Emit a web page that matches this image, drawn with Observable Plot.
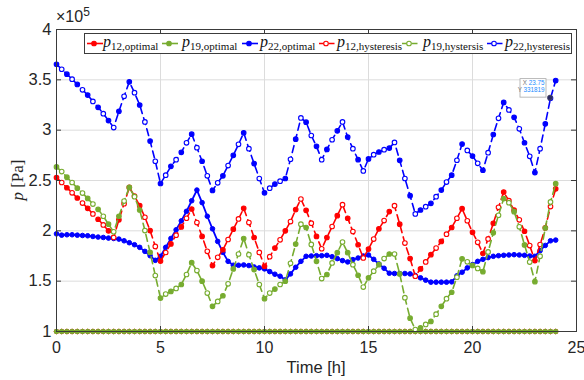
<!DOCTYPE html>
<html><head><meta charset="utf-8">
<script src="https://cdn.jsdelivr.net/npm/d3@7"></script>
<script src="https://cdn.jsdelivr.net/npm/@observablehq/plot@0.6"></script>
<style>
body{margin:0;background:#fff;}
#wrap{position:relative;width:584px;height:380px;font-family:"Liberation Sans",Arial,sans-serif;color:#262626;}
#wrap svg{position:absolute;left:0;top:0;}
.legend{position:absolute;left:84px;top:33px;width:486px;height:19px;border:1px solid #3c3c3c;background:#fff;}
.lg-item{position:absolute;top:0;height:19px;}
.lg-label{position:absolute;top:-1px;font-family:"Liberation Serif","Times New Roman",serif;font-size:16px;white-space:nowrap;color:#111;}
.lg-label sub{font-size:11px;vertical-align:-3px;}
.ylab{position:absolute;left:18px;top:180px;transform:translate(-50%,-50%) rotate(-90deg);font-family:"Liberation Serif",serif;font-size:17px;white-space:nowrap;color:#262626;}
.xlab{position:absolute;left:316px;top:358px;transform:translateX(-50%);font-size:16.5px;white-space:nowrap;}
.mult{position:absolute;left:56px;top:5px;font-size:16px;white-space:nowrap;}
.mult sup{font-size:12px;vertical-align:6px;}
</style></head><body><div id="wrap"></div>
<script>
// Time axis [h]
const time = [0,0.25,0.5,0.75,1,1.25,1.5,1.75,2,2.25,2.5,2.75,3,3.25,3.5,3.75,4,4.25,4.5,4.75,5,5.25,5.5,5.75,6,
6.25,6.5,6.75,7,7.25,7.5,7.75,8,8.25,8.5,8.75,9,9.25,9.5,9.75,10,10.25,10.5,10.75,11,11.25,11.5,11.75,12,12.25,
12.5,12.75,13,13.25,13.5,13.75,14,14.25,14.5,14.75,15,15.25,15.5,15.75,16,16.25,16.5,16.75,17,17.25,17.5,17.75,18,18.25,18.5,
18.75,19,19.25,19.5,19.75,20,20.25,20.5,20.75,21,21.25,21.5,21.75,22,22.25,22.5,22.75,23,23.25,23.5,23.75,24];

// pressures in units of 1e5 Pa
const p12Optimal = [1,1,1,1,1,1,1,1,1,1,1,1,1,1,1,1,1,1,1,1,1,1,1,1,1,
1,1,1,1,1,1,1,1,1,1,1,1,1,1,1,1,1,1,1,1,1,1,1,1,1,
1,1,1,1,1,1,1,1,1,1,1,1,1,1,1,1,1,1,1,1,1,1,1,1,1,
1,1,1,1,1,1,1,1,1,1,1,1,1,1,1,1,1,1,1,1,1,1];
const p19Optimal = [1,1,1,1,1,1,1,1,1,1,1,1,1,1,1,1,1,1,1,1,1,1,1,1,1,
1,1,1,1,1,1,1,1,1,1,1,1,1,1,1,1,1,1,1,1,1,1,1,1,1,
1,1,1,1,1,1,1,1,1,1,1,1,1,1,1,1,1,1,1,1,1,1,1,1,1,
1,1,1,1,1,1,1,1,1,1,1,1,1,1,1,1,1,1,1,1,1,1];
const p22Optimal = [1.970,1.957,1.961,1.961,1.957,1.954,1.951,1.944,1.938,1.934,1.928,1.924,1.918,1.901,1.882,1.862,1.836,1.796,1.753,1.707,1.747,1.836,1.924,2.010,2.099,
2.194,2.299,2.405,2.280,2.145,2.020,1.895,1.786,1.697,1.658,1.658,1.661,1.655,1.641,1.632,1.622,1.595,1.569,1.549,1.513,1.572,1.638,1.697,1.747,1.750,
1.753,1.753,1.757,1.743,1.724,1.704,1.691,1.714,1.730,1.750,1.760,1.717,1.671,1.628,1.579,1.576,1.576,1.576,1.572,1.556,1.533,1.510,1.490,1.490,1.490,
1.490,1.493,1.553,1.589,1.632,1.664,1.697,1.717,1.734,1.747,1.753,1.757,1.760,1.763,1.760,1.757,1.750,1.747,1.803,1.855,1.901,1.908];
const p12Hyst = [2.530,2.480,2.428,2.378,2.326,2.276,2.224,2.168,2.115,2.059,2.000,1.934,2.109,2.270,2.431,2.345,2.250,2.135,2.003,1.845,1.700,1.785,1.870,1.957,2.039,
2.125,2.217,2.082,1.944,1.796,1.655,1.737,1.812,1.914,2.016,2.118,2.224,2.082,1.934,1.786,1.648,1.743,1.829,1.911,2.000,2.092,2.211,2.316,2.204,2.076,
1.944,1.822,1.934,2.043,2.151,2.260,2.125,1.993,1.862,1.730,1.819,1.918,2.020,2.102,2.191,2.250,2.066,1.878,1.724,1.549,1.622,1.691,1.763,1.829,1.895,
1.967,2.033,2.125,2.220,2.100,1.985,1.886,1.775,1.920,2.075,2.234,2.385,2.300,2.205,2.109,1.996,1.854,1.705,1.864,2.030,2.241,2.417];
const p19Hyst = [2.635,2.589,2.533,2.480,2.424,2.375,2.322,2.266,2.214,2.145,2.066,1.990,2.145,2.296,2.431,2.339,2.207,2.003,1.786,1.556,1.332,1.372,1.398,1.428,1.467,
1.566,1.684,1.605,1.500,1.382,1.250,1.299,1.355,1.474,1.622,1.770,1.924,1.763,1.615,1.467,1.326,1.382,1.421,1.467,1.500,1.678,1.868,2.066,2.033,1.865,
1.697,1.526,1.566,1.681,1.783,1.888,1.783,1.664,1.559,1.441,1.533,1.599,1.664,1.724,1.770,1.770,1.572,1.336,1.132,1.020,1.036,1.070,1.100,1.172,1.250,
1.326,1.390,1.540,1.722,1.692,1.656,1.627,1.594,1.790,1.980,2.155,2.320,2.280,2.190,2.040,1.860,1.690,1.495,1.748,2.028,2.287,2.468];
const p22Hyst = [3.655,3.605,3.556,3.507,3.454,3.401,3.349,3.286,3.227,3.164,3.095,3.026,3.187,3.336,3.480,3.372,3.250,3.082,2.892,2.691,2.470,2.553,2.641,2.707,2.780,
2.874,2.960,2.826,2.691,2.546,2.401,2.477,2.546,2.648,2.750,2.859,2.974,2.816,2.668,2.520,2.378,2.424,2.464,2.493,2.520,2.711,2.911,3.122,3.079,2.947,
2.839,2.707,2.809,2.905,2.993,3.082,2.931,2.816,2.707,2.595,2.714,2.757,2.783,2.806,2.822,2.878,2.700,2.520,2.349,2.168,2.207,2.240,2.273,2.339,2.405,
2.484,2.553,2.701,2.862,2.799,2.743,2.671,2.602,2.776,2.957,3.118,3.276,3.201,3.128,3.013,2.875,2.740,2.579,2.816,3.063,3.31819,3.493];

const xTicks = [0,5,10,15,20,25];
const yTicks = [1,1.5,2,2.5,3,3.5,4];
const yScaleFactor = 1e5;
const tipTime = 23.75;

const seriesNames = ["p12Optimal","p19Optimal","p22Optimal","p12Hyst","p19Hyst","p22Hyst"];
const seriesSub = ["12,optimal","19,optimal","22,optimal","12,hysteresis","19,hystersis","22,hysteresis"];
const seriesValues = [p12Optimal,p19Optimal,p22Optimal,p12Hyst,p19Hyst,p22Hyst];
const seriesColor = ["#ff0000","#77ac30","#0000ff","#ff0000","#77ac30","#0000ff"];
const seriesDashed = [false,false,false,true,true,true];

const W = 584, H = 380, ML = 56, MR = 8, MT = 29, MB = 49;
const FW = W - ML - MR, FH = H - MT - MB;

const marks = [
  Plot.gridX(xTicks, {stroke:"#dcdcdc", strokeOpacity:1, strokeWidth:1}),
  Plot.gridY(yTicks, {stroke:"#dcdcdc", strokeOpacity:1, strokeWidth:1}),
  Plot.axisX({ticks:xTicks, tickSize:0, tickPadding:10, fontSize:16, fill:"#262626", label:null, tickFormat:d=>String(d)}),
  Plot.axisY({ticks:yTicks, tickSize:0, tickPadding:5, fontSize:16.5, fill:"#262626", label:null, tickFormat:d=>String(d)})
];

seriesValues.forEach((vals, k) => {
  const rows = time.map((t,i) => ({t, v: vals[i], i}));
  const c = seriesColor[k];
  marks.push(Plot.line(rows, {x:"t", y:"v", stroke:c, strokeWidth: seriesDashed[k] ? 1.6 : 1.8,
    strokeDasharray: seriesDashed[k] ? "7,4.5" : null}));
  if (seriesDashed[k]) {
    marks.push(Plot.dot(rows, {x:"t", y:"v", r:2.3, stroke:c, strokeWidth:1.1, fill:c, filter:d=>d.i%2===0}));
    marks.push(Plot.dot(rows, {x:"t", y:"v", r:2.3, stroke:c, strokeWidth:1.1, fill:"white", filter:d=>d.i%2===1}));
  } else {
    marks.push(Plot.dot(rows, {x:"t", y:"v", r:2.3, stroke:c, strokeWidth:1, fill:c}));
  }
});

marks.push(
  Plot.frame({stroke:"#3a3a3a", strokeWidth:1}),
  Plot.ruleX(xTicks, {x:d=>d, insetTop:FH-5, stroke:"#3a3a3a"}),
  Plot.ruleX(xTicks, {x:d=>d, insetBottom:FH-5, stroke:"#3a3a3a"}),
  Plot.ruleY(yTicks, {y:d=>d, insetLeft:FW-5, stroke:"#3a3a3a"}),
  Plot.ruleY(yTicks, {y:d=>d, insetRight:FW-5, stroke:"#3a3a3a"})
);

const chart = Plot.plot({
  width:W, height:H, marginLeft:ML, marginRight:MR, marginTop:MT, marginBottom:MB,
  style:{fontFamily:"'Liberation Sans', Arial, sans-serif", background:"transparent", overflow:"visible"},
  x:{domain:[0,25]},
  y:{domain:[1,4]},
  marks
});
const wrap = document.getElementById("wrap");
wrap.appendChild(chart);

// data tip on p22 hysteresis at t = 23.75
const sx = chart.scale("x"), sy = chart.scale("y");
const ti = time.indexOf(tipTime);
const tv = p22Hyst[ti];
const px = sx.apply(tipTime), py = sy.apply(tv);
const svg = d3.select(chart);
const g = svg.append("g");
g.append("circle").attr("cx",px).attr("cy",py).attr("r",2.6).attr("fill","#2a2a66").attr("stroke","#555").attr("stroke-width",0.6);
g.append("rect").attr("x",px-30).attr("y",py-19).attr("width",26).attr("height",18.5)
  .attr("fill","#fff").attr("stroke","#a8a8a8").attr("stroke-width",0.8);
const rowsTip = [["X", String(tipTime)],["Y", String(Math.round(tv*yScaleFactor))]];
rowsTip.forEach((r,j) => {
  const t = g.append("text").attr("x",px-5.5).attr("y",py-12.5+j*7.2).attr("text-anchor","end")
    .attr("font-size",6.3).attr("font-family","'Liberation Sans',Arial,sans-serif");
  t.append("tspan").attr("fill","#777").text(r[0]+" ");
  t.append("tspan").attr("fill","#1a8cff").text(r[1]);
});

// legend
const leg = document.createElement("div");
leg.className = "legend";
const sampleLeft = [2, 77, 157, 234, 317, 402];
const labelLeft = [18, 97, 175, 252, 338, 420];
seriesNames.forEach((n,k) => {
  const it = document.createElement("div");
  it.className = "lg-item";
  it.style.left = sampleLeft[k] + "px";
  const c = seriesColor[k];
  const dash = seriesDashed[k];
  it.innerHTML = `<svg width="18" height="19" style="position:absolute;left:0;top:0">
    <line x1="0" x2="16" y1="9.5" y2="9.5" stroke="${c}" stroke-width="1.6" ${dash ? 'stroke-dasharray="6,3.5"' : ''}/>
    <circle cx="7" cy="9.5" r="2.3" fill="${dash ? '#fff' : c}" stroke="${c}" stroke-width="1.1"/></svg>`;
  leg.appendChild(it);
  const lb = document.createElement("div");
  lb.className = "lg-label";
  lb.style.left = labelLeft[k] + "px";
  lb.innerHTML = `<i>p</i><sub>${seriesSub[k]}</sub>`;
  leg.appendChild(lb);
});
wrap.appendChild(leg);

const yl = document.createElement("div");
yl.className = "ylab";
yl.innerHTML = "<i>p</i> [Pa]";
wrap.appendChild(yl);
const xl = document.createElement("div");
xl.className = "xlab";
xl.textContent = "Time [h]";
wrap.appendChild(xl);
const mu = document.createElement("div");
mu.className = "mult";
mu.innerHTML = "×10<sup>5</sup>";
wrap.appendChild(mu);
</script>
</body></html>
